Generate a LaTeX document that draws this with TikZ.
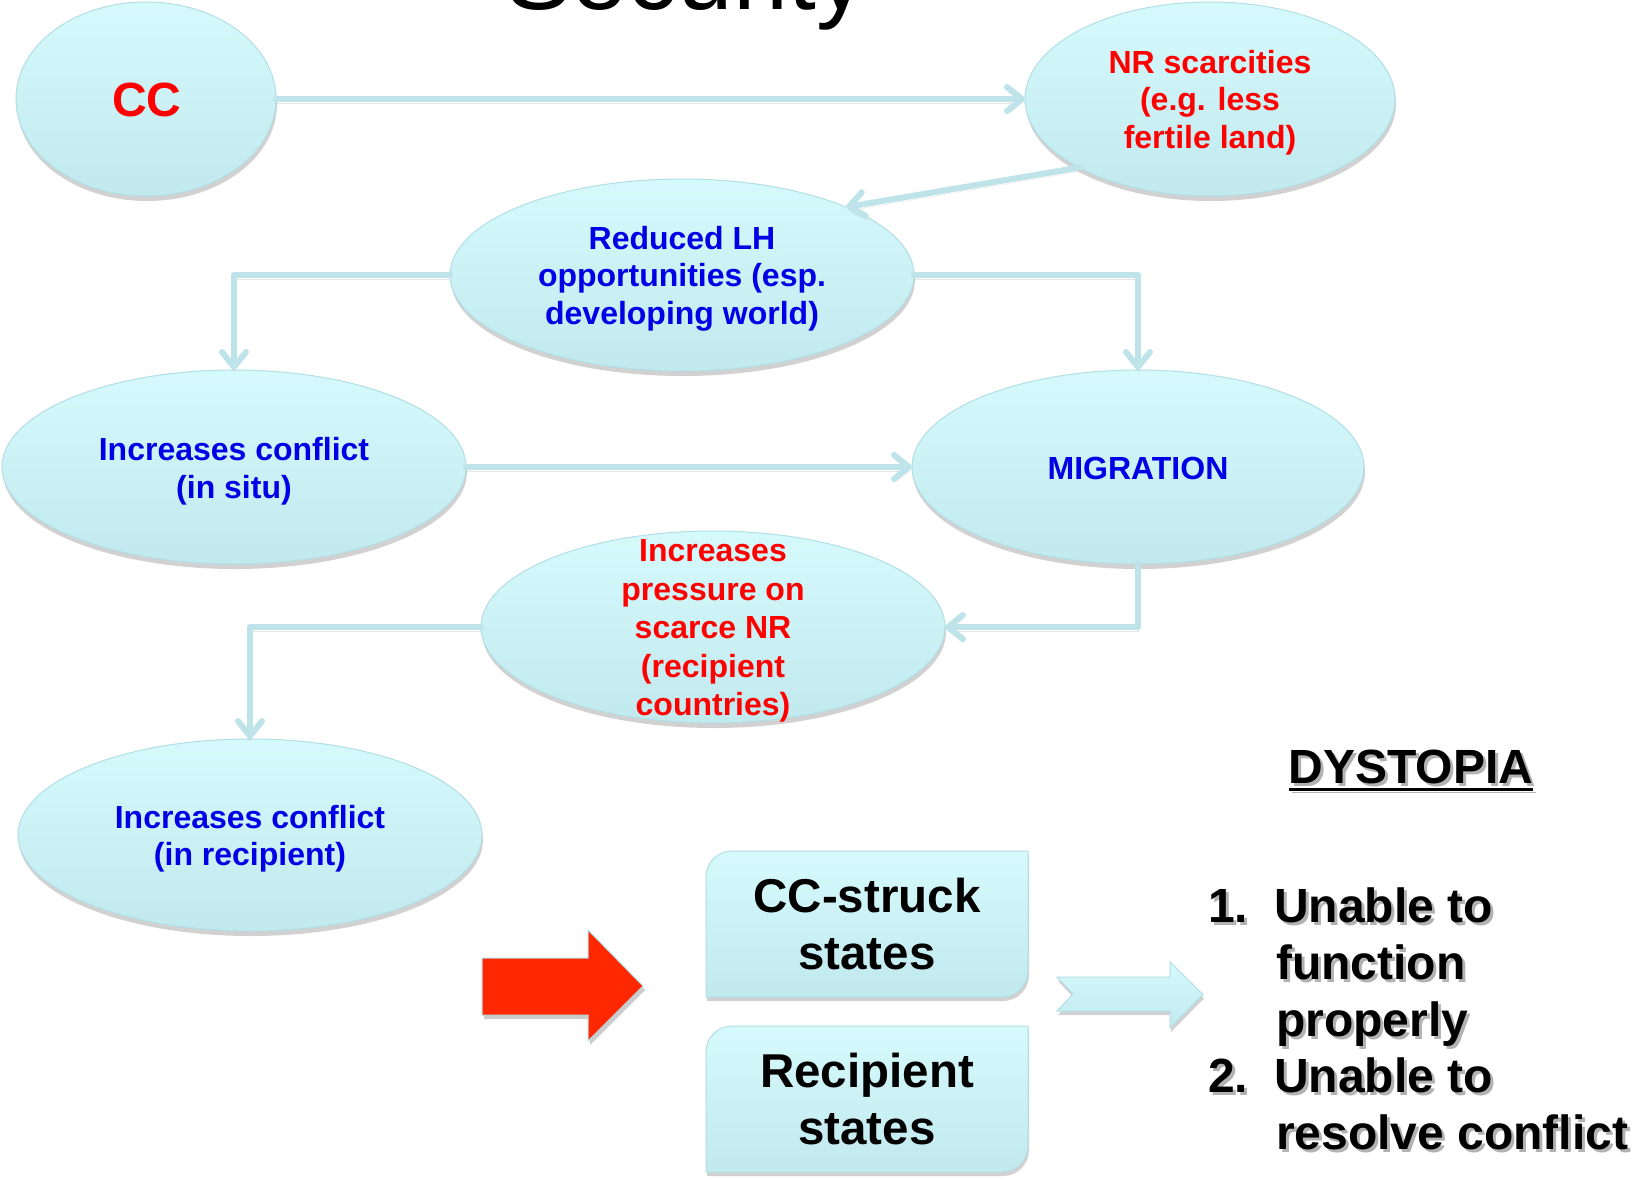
\documentclass[tikz,border=0pt]{standalone}
\usepackage{fontspec}
\setmainfont{Liberation Sans}
\usetikzlibrary{arrows.meta,shadows,shapes.geometric}
\definecolor{ellA}{RGB}{214,250,252}
\definecolor{ellB}{RGB}{193,233,238}
\definecolor{ellD}{RGB}{178,222,229}
\definecolor{connc}{RGB}{190,228,233}
\definecolor{txtred}{RGB}{255,0,0}
\definecolor{txtblue}{RGB}{0,0,230}
\definecolor{arrred}{RGB}{255,40,0}
\newcommand\shd[1]{\makebox[0pt][l]{\kern3pt\raisebox{-3pt}{\textcolor{black!30}{#1}}}#1}
\begin{document}
\begin{tikzpicture}[x=1pt,y=-1pt,
  ell/.style={ellipse, draw=ellD, line width=1pt, top color=ellA, bottom color=ellB,
    inner sep=0pt, outer sep=0pt,
    drop shadow={shadow xshift=1pt, shadow yshift=-5pt, opacity=0.18, fill=black}},
  etext/.style={font=\fontsize{32}{37.5}\selectfont\bfseries, align=center, inner sep=0pt},
  connsty/.style={draw=connc, line width=6pt, line cap=round, line join=round,
    -{Straight Barb[length=15pt,width=24pt,line cap=round,line join=round]},
    preaction={draw=black, opacity=0.10, transform canvas={yshift=-4pt}}},
  boxsty/.style={draw=ellD, line width=1pt, top color=ellA, bottom color=ellB,
    drop shadow={shadow xshift=1pt, shadow yshift=-4pt, opacity=0.18, fill=black}},
  boxtext/.style={font=\fontsize{47.5}{57}\selectfont\bfseries, align=center, inner sep=0pt},
  lst/.style={font=\fontsize{48}{57}\selectfont\bfseries, anchor=base west, inner sep=0pt}
]
\fill[white] (0,0) rectangle (1633,1179);
\useasboundingbox (0,0) rectangle (1633,1179);

% partial title (cut off at the top, as in the reference)
\node[anchor=base west, font=\fontsize{100}{100}\selectfont, inner sep=0pt] (title) at (505,9) {Security};

% ellipses
\node[ell, minimum width=260pt, minimum height=194pt] (cc) at (146,99) {};
\node[ell, minimum width=370pt, minimum height=194pt] (nr) at (1210,99) {};
\node[ell, minimum width=464pt, minimum height=192pt] (lh) at (682,275) {};
\node[ell, minimum width=464pt, minimum height=194pt] (insitu) at (234,467) {};
\node[ell, minimum width=452pt, minimum height=194pt] (mig) at (1138,467) {};
\node[ell, minimum width=464pt, minimum height=192pt] (pres) at (713,627) {};
\node[ell, minimum width=464pt, minimum height=192pt] (rec) at (250,835) {};

% ellipse texts
\node[etext, text=txtred, font=\fontsize{48}{50}\selectfont\bfseries] (tcc) at ([xshift=1pt,yshift=-1pt]cc.center) {CC};
\node[etext, text=txtred] (tnr) at ([yshift=-3.5pt]nr.center) {NR scarcities\\(e.g. less\\fertile land)};
\node[etext, text=txtblue] (tlh) at ([yshift=-3.5pt]lh.center) {Reduced LH\\opportunities (esp.\\developing world)};
\node[etext, text=txtblue] (tinsitu) at ([yshift=-4pt]insitu.center) {Increases conflict\\(in situ)};
\node[etext, text=txtblue] (tmig) at ([yshift=-1pt]mig.center) {MIGRATION};
\node[etext, text=txtred, font=\fontsize{32}{38.5}\selectfont\bfseries] (tpres) at ([yshift=-4pt]pres.center) {Increases\\pressure on\\scarce NR\\(recipient\\countries)};
\node[etext, text=txtblue] (trec) at ([yshift=-3.5pt]rec.center) {Increases conflict\\(in recipient)};

% connectors
\draw[connsty] (cc.east) -- (nr.west);
\draw[connsty] (nr.south west) -- (lh.north east);
\draw[connsty] (lh.west) -| (insitu.north);
\draw[connsty] (lh.east) -| (mig.north);
\draw[connsty] (insitu.east) -- (mig.west);
\draw[connsty] (mig.south) |- (pres.east);
\draw[connsty] (pres.west) -| (rec.north);

% red block arrow
\path[fill=arrred, draw=ellD, line width=1pt,
  drop shadow={shadow xshift=2pt, shadow yshift=-4pt, opacity=0.2, fill=black}]
  (482,958) -- (588,958) -- (588,930) -- (643,986) -- (588,1041) -- (588,1015) -- (482,1015) -- cycle;

% state boxes (top-left and bottom-right corners rounded)
\path[boxsty] (706,997) -- (706,877) .. controls (706,862.6) and (717.6,851) .. (732,851) -- (1028,851)
  -- (1028,971) .. controls (1028,985.4) and (1016.4,997) .. (1002,997) -- cycle;
\node[boxtext] (cs) at (867,924) {CC-struck\\states};
\path[boxsty] (706,1172) -- (706,1052) .. controls (706,1037.6) and (717.6,1026) .. (732,1026) -- (1028,1026)
  -- (1028,1146) .. controls (1028,1160.4) and (1016.4,1172) .. (1002,1172) -- cycle;
\node[boxtext] (rs) at (867,1099) {Recipient\\states};

% light blue notched arrow
\path[draw=ellD, line width=1pt, top color=ellA, bottom color=ellB,
  drop shadow={shadow xshift=1pt, shadow yshift=-4pt, opacity=0.18, fill=black}]
  (1057,977) -- (1170,977) -- (1170,962) -- (1203,994.5) -- (1170,1028) -- (1170,1011)
  -- (1057,1011) -- (1073,994) -- cycle;

% dystopia
\node[lst, anchor=base] (dys) at (1411,783) {\shd{DYSTOPIA}};
\draw[line width=3pt, preaction={draw=black!30, transform canvas={xshift=3pt,yshift=-3pt}}]
  ([yshift=-6pt]dys.base west) -- ([yshift=-6pt]dys.base east);

\node[lst] (n1) at (1208,922) {\shd{1.}};
\node[lst] (l1) at (1274,922) {\shd{Unable to}};
\node[lst] (l2) at (1276,979) {\shd{function}};
\node[lst] (l3) at (1276,1036) {\shd{properly}};
\node[lst] (n2) at (1208,1092) {\shd{2.}};
\node[lst] (l4) at (1274,1092) {\shd{Unable to}};
\node[lst] (l5) at (1276,1149) {\shd{resolve conflict}};
\end{tikzpicture}
\end{document}
